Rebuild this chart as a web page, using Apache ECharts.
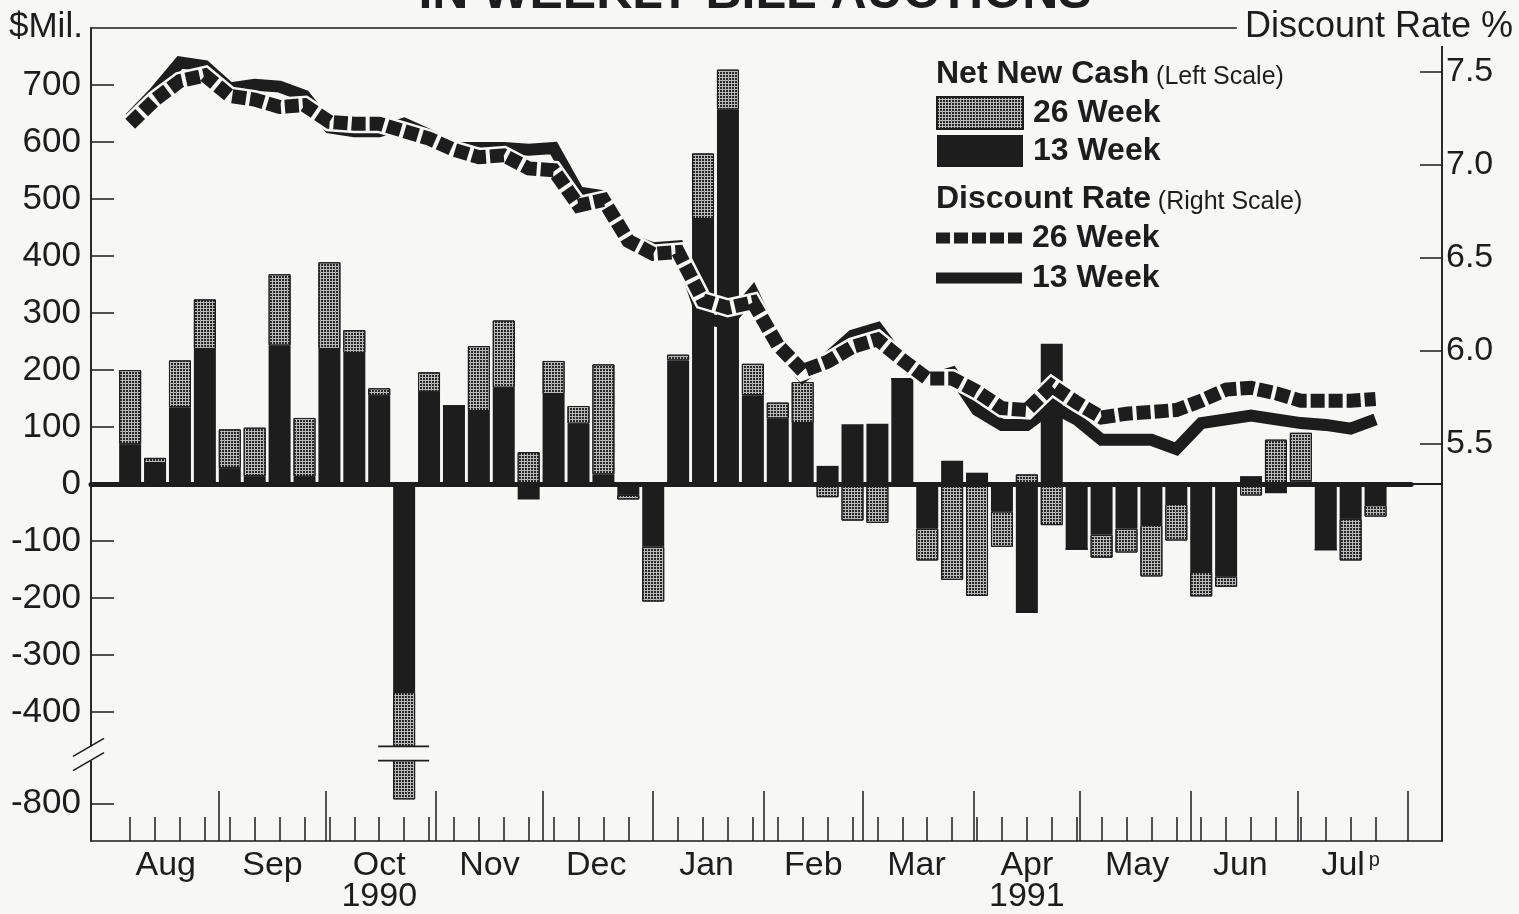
<!DOCTYPE html>
<html>
<head>
<meta charset="utf-8">
<title>Net New Cash in Weekly Bill Auctions</title>
<script src="https://cdn.jsdelivr.net/npm/echarts@6.0.0/dist/echarts.min.js"></script>
<style>
  html, body { margin: 0; padding: 0; background: #f7f7f5; }
  #chart { width: 1519px; height: 914px; }
</style>
</head>
<body>
<div id="chart"></div>
<script>
// weekly bill auction dates
const weeks = [
  "1990-08-06", "1990-08-13", "1990-08-20", "1990-08-27",
  "1990-09-03", "1990-09-10", "1990-09-17", "1990-09-24",
  "1990-10-01", "1990-10-08", "1990-10-15", "1990-10-22", "1990-10-29",
  "1990-11-05", "1990-11-12", "1990-11-19", "1990-11-26",
  "1990-12-03", "1990-12-10", "1990-12-17", "1990-12-24", "1990-12-31",
  "1991-01-07", "1991-01-14", "1991-01-21", "1991-01-28",
  "1991-02-04", "1991-02-11", "1991-02-18", "1991-02-25",
  "1991-03-04", "1991-03-11", "1991-03-18", "1991-03-25",
  "1991-04-01", "1991-04-08", "1991-04-15", "1991-04-22", "1991-04-29",
  "1991-05-06", "1991-05-13", "1991-05-20", "1991-05-27",
  "1991-06-03", "1991-06-10", "1991-06-17", "1991-06-24",
  "1991-07-01", "1991-07-08", "1991-07-15", "1991-07-22"
];

// net new cash, $ millions (left scale)
const cash13 = [70, 37, 135, 237, 28, 14, 243, 13, 237, 230, 155, -365, 162,
  137, 128, 169, -27, 158, 106, 17, -19, -110, 217, 465, 657, 156,
  115, 107, 32, 105, 106, 185, -78, 41, 20, -48, -226, 246, -114,
  -89, -78, -72, -35, -154, -162, 14, -16, 5, -115, -61, -37];
const cash26 = [130, 9, 82, 87, 68, 85, 125, 103, 152, 40, 13, -428, 34,
  0, 114, 118, 56, 58, 31, 193, -8, -96, 10, 115, 70, 55,
  28, 72, -23, -64, -68, 0, -56, -168, -196, -62, 17, -72, 0,
  -40, -42, -90, -64, -43, -18, -20, 78, 85, 0, -73, -20];

// discount rate, % (right scale)
const rate13 = [7.25, 7.39, 7.55, 7.53, 7.41, 7.43, 7.42, 7.37, 7.20, 7.18, 7.18, 7.22, 7.16,
  7.09, 7.09, 7.09, 7.08, 7.09, 6.85, 6.83, 6.60, 6.55, 6.56, 6.17, 6.15, 6.31,
  6.03, 5.86, 5.96, 6.08, 6.12, 5.94, 5.84, 5.88, 5.68, 5.60, 5.60, 5.70, 5.63,
  5.52, 5.52, 5.52, 5.47, 5.61, 5.63, 5.65, 5.63, 5.61, 5.60, 5.58, 5.63];
const rate26 = [7.22, 7.35, 7.45, 7.48, 7.37, 7.35, 7.31, 7.32, 7.23, 7.22, 7.22, 7.18, 7.14,
  7.08, 7.04, 7.05, 6.98, 6.97, 6.78, 6.81, 6.59, 6.52, 6.53, 6.27, 6.23, 6.26,
  6.03, 5.89, 5.94, 6.02, 6.06, 5.95, 5.85, 5.85, 5.78, 5.69, 5.68, 5.81, 5.72,
  5.64, 5.66, 5.67, 5.68, 5.73, 5.79, 5.80, 5.77, 5.73, 5.73, 5.73, 5.74];

// axis ticks and labels
const cashTicks = [-800, -400, -300, -200, -100, 0, 100, 200, 300, 400, 500, 600, 700];
const rateTicks = [5.5, 6.0, 6.5, 7.0, 7.5];
const cashBreak = { start: -725, end: -460 };
const monthMids = ["1990-08-16", "1990-09-15", "1990-10-15", "1990-11-15", "1990-12-15", "1991-01-15",
  "1991-02-14", "1991-03-15", "1991-04-15", "1991-05-16", "1991-06-14", "1991-07-15"];
const monthNames = ["Aug", "Sep", "Oct\n1990", "Nov", "Dec", "Jan",
  "Feb", "Mar", "Apr\n1991", "May", "Jun", "Jul{p|p}"];
const monthEnds = ["1990-08-31", "1990-09-30", "1990-10-31", "1990-11-30", "1990-12-31", "1991-01-31",
  "1991-02-28", "1991-03-31", "1991-04-30", "1991-05-31", "1991-06-30", "1991-07-31"];

const ink = "#1d1d1d";
const paper = "#f7f7f5";
const font = '"Liberation Sans", Arial, Helvetica, sans-serif';

const ts = (d) => Date.parse(d);
const xMin = Date.UTC(1990, 6, 26);
const xMax = Date.UTC(1991, 7, 9, 16);
const zeroLineEnd = ts("1991-08-01");
const brokenWeek = ts("1990-10-22");

const gridBox = { left: 91, right: 77, top: 28, bottom: 73 };
const barWidth = 22;

// ECharts pads a time axis that carries bars by half a bar on each side;
// shrink the requested extent so the padded one lands on [xMin, xMax].
const plotWidth = 1519 - gridBox.left - gridBox.right;
const keepRange = (xMax - xMin) * (1 - barWidth / plotWidth);
const barAxisMin = xMin + ((xMax - xMin) - keepRange) / 2;
const barAxisMax = barAxisMin + keepRange;

const monthLabelAt = {};
monthMids.forEach((d, i) => { monthLabelAt[ts(d)] = monthNames[i]; });

const pairs = (vals) => weeks.map((d, i) => [ts(d), vals[i]]);
const shortName = (name) => name.replace(/^.* (\d+ Week)$/, "$1");

const dashIcon = "path://M0,0h14v11h-14z M18,0h14v11h-14z M36,0h14v11h-14z M54,0h14v11h-14z M72,0h14v11h-14z";

const chart = echarts.init(document.getElementById("chart"));

const legendText = { fontSize: 32, fontWeight: "bold", color: ink, fontFamily: font, padding: [0, 0, 0, 5] };

chart.setOption({
  animation: false,
  backgroundColor: paper,
  textStyle: { fontFamily: font, color: ink },
  grid: Object.assign({
    show: true, borderColor: ink, borderWidth: 1.5, backgroundColor: "transparent",
  }, gridBox),
  xAxis: [
    {
      // date axis carrying bars and lines
      type: "time", min: barAxisMin, max: barAxisMax, position: "bottom",
      axisLine: { show: true, lineStyle: { color: ink, width: 2 } },
      axisTick: { show: false },
      axisLabel: { show: false },
      splitLine: { show: false },
    },
    {
      // weekly ticks and month names
      type: "value", min: xMin, max: xMax, position: "bottom",
      axisLine: { show: false },
      axisTick: {
        show: true, inside: true, length: 24,
        lineStyle: { color: ink, width: 1.5 },
        customValues: weeks.map(ts),
      },
      axisLabel: {
        show: true, customValues: monthMids.map(ts),
        formatter: (v) => monthLabelAt[v] || "",
        fontSize: 34, lineHeight: 31, color: ink, fontFamily: font, margin: 9,
        rich: { p: { fontSize: 20, verticalAlign: "top", fontFamily: font, color: ink, padding: [0, 0, 14, 4] } },
      },
      splitLine: { show: false },
    },
    {
      // month boundaries
      type: "value", min: xMin, max: xMax, position: "bottom",
      axisLine: { show: false },
      axisTick: {
        show: true, inside: true, length: 50,
        lineStyle: { color: ink, width: 1.5 },
        customValues: monthEnds.map(ts),
      },
      axisLabel: { show: false },
      splitLine: { show: false },
    },
  ],
  yAxis: [
    {
      type: "value", position: "left", min: -866, max: 800,
      breaks: [{ start: cashBreak.start, end: cashBreak.end, gap: 25 }],
      breakArea: { show: false },
      axisLine: { show: true, lineStyle: { color: ink, width: 1.5 } },
      axisTick: { show: true, inside: true, length: 23, lineStyle: { color: ink, width: 1.5 }, customValues: cashTicks },
      axisLabel: { customValues: cashTicks, fontSize: 35, color: ink, fontFamily: font, margin: 10 },
      splitLine: { show: false },
    },
    {
      type: "value", position: "right", min: 3.362, max: 7.735,
      axisLine: { show: true, lineStyle: { color: ink, width: 1.5 } },
      axisTick: { show: true, inside: true, length: 22, lineStyle: { color: ink, width: 1.5 }, customValues: rateTicks },
      axisLabel: {
        customValues: rateTicks, formatter: (v) => v.toFixed(1),
        fontSize: 34, color: ink, fontFamily: font, margin: 4,
      },
      splitLine: { show: false },
    },
  ],
  legend: [
    {
      orient: "vertical", left: 936, top: 96, padding: 0,
      itemWidth: 86, itemHeight: 32, itemGap: 5,
      selectedMode: false, formatter: shortName, textStyle: legendText,
      data: [
        { name: "Net New Cash 26 Week", icon: "rect" },
        { name: "Net New Cash 13 Week", icon: "rect" },
      ],
    },
    {
      orient: "vertical", left: 936, top: 222, padding: 0,
      itemWidth: 86, itemHeight: 11, itemGap: 8,
      selectedMode: false, formatter: shortName, textStyle: legendText,
      data: [
        { name: "Discount Rate 26 Week", icon: dashIcon },
        { name: "Discount Rate 13 Week", icon: "rect" },
      ],
    },
  ],
  series: [
    {
      name: "Net New Cash 13 Week", type: "bar", stack: "cash",
      xAxisIndex: 0, yAxisIndex: 0, barWidth: barWidth,
      data: pairs(cash13),
      itemStyle: { color: ink },
    },
    {
      name: "Net New Cash 26 Week", type: "bar", stack: "cash",
      xAxisIndex: 0, yAxisIndex: 0, barWidth: barWidth,
      data: pairs(cash26),
      itemStyle: {
        color: "#b9b9b9", borderColor: ink, borderWidth: 1,
        decal: { symbol: "rect", symbolSize: 1, dashArrayX: [2, 1], dashArrayY: [2, 1], color: "#262626" },
      },
      markLine: {
        silent: true, symbol: "none", label: { show: false },
        lineStyle: { color: ink, width: 5, type: "solid", cap: "round" },
        data: [[{ coord: [xMin, 0] }, { coord: [zeroLineEnd, 0] }]],
      },
    },
    {
      name: "Discount Rate 13 Week", type: "line",
      xAxisIndex: 0, yAxisIndex: 1, data: pairs(rate13),
      symbol: "none", z: 3,
      itemStyle: { color: ink },
      lineStyle: { color: ink, width: 12, join: "miter", miterLimit: 3 },
    },
    {
      // paper-coloured edge under the dashed line
      name: "rate26 edge", type: "line",
      xAxisIndex: 0, yAxisIndex: 1, data: pairs(rate26),
      symbol: "none", z: 3, silent: true,
      itemStyle: { color: paper },
      lineStyle: { color: paper, width: 19, join: "miter", miterLimit: 3 },
    },
    {
      name: "Discount Rate 26 Week", type: "line",
      xAxisIndex: 0, yAxisIndex: 1, data: pairs(rate26),
      symbol: "none", z: 3,
      itemStyle: { color: ink },
      lineStyle: { color: ink, width: 14, type: [14, 4], cap: "butt", join: "miter", miterLimit: 3 },
    },
  ],
  graphic: [
    {
      type: "text", x: 755, y: -6, z: 100,
      style: { text: "IN WEEKLY BILL AUCTIONS", font: "bold 50px " + font, fill: ink, align: "center", verticalAlign: "middle" },
    },
    {
      type: "text", x: 9, y: 27, z: 100,
      style: { text: "$Mil.", font: "35px " + font, fill: ink, align: "left", verticalAlign: "middle" },
    },
    {
      type: "text", x: 1516, y: 27, z: 100,
      style: {
        text: "Discount Rate %", font: "36px " + font, fill: ink, align: "right", verticalAlign: "middle",
        backgroundColor: paper, padding: [2, 3, 0, 8],
      },
    },
    {
      type: "text", x: 936, y: 74, z: 100,
      style: {
        text: "{h|Net New Cash}  {s|(Left Scale)}", align: "left", verticalAlign: "middle",
        rich: {
          h: { font: "bold 32px " + font, fill: ink, verticalAlign: "bottom" },
          s: { font: "25px " + font, fill: ink, verticalAlign: "bottom" },
        },
      },
    },
    {
      type: "text", x: 936, y: 199, z: 100,
      style: {
        text: "{h|Discount Rate}  {s|(Right Scale)}", align: "left", verticalAlign: "middle",
        rich: {
          h: { font: "bold 32px " + font, fill: ink, verticalAlign: "bottom" },
          s: { font: "25px " + font, fill: ink, verticalAlign: "bottom" },
        },
      },
    },
  ],
});

// break marks on the axis and across the broken bar
function drawBreakMarks() {
  const cart = { xAxisIndex: 0, yAxisIndex: 0 };
  const [bx, yHi] = chart.convertToPixel(cart, [brokenWeek, cashBreak.end]);
  const [, yLo] = chart.convertToPixel(cart, [brokenWeek, cashBreak.start]);
  const ax = gridBox.left;
  const stroke = { stroke: ink, lineWidth: 1.6 };
  const marks = [
    { type: "rect", z: 200, shape: { x: ax - 4, y: yHi, width: 8, height: yLo - yHi }, style: { fill: paper } },
    { type: "rect", z: 200, shape: { x: bx - 14, y: yHi, width: 28, height: yLo - yHi }, style: { fill: paper } },
    { type: "line", z: 201, shape: { x1: ax - 18, y1: yHi + 10, x2: ax + 13, y2: yHi - 8 }, style: stroke },
    { type: "line", z: 201, shape: { x1: ax - 18, y1: yLo + 10, x2: ax + 13, y2: yLo - 8 }, style: stroke },
    { type: "line", z: 201, shape: { x1: bx - 26, y1: yHi, x2: bx + 25, y2: yHi }, style: stroke },
    { type: "line", z: 201, shape: { x1: bx - 26, y1: yLo, x2: bx + 25, y2: yLo }, style: stroke },
  ];
  chart.setOption({ graphic: marks.map((m, i) => Object.assign({ id: "brk" + i }, m)) });
}
drawBreakMarks();
</script>
</body>
</html>
